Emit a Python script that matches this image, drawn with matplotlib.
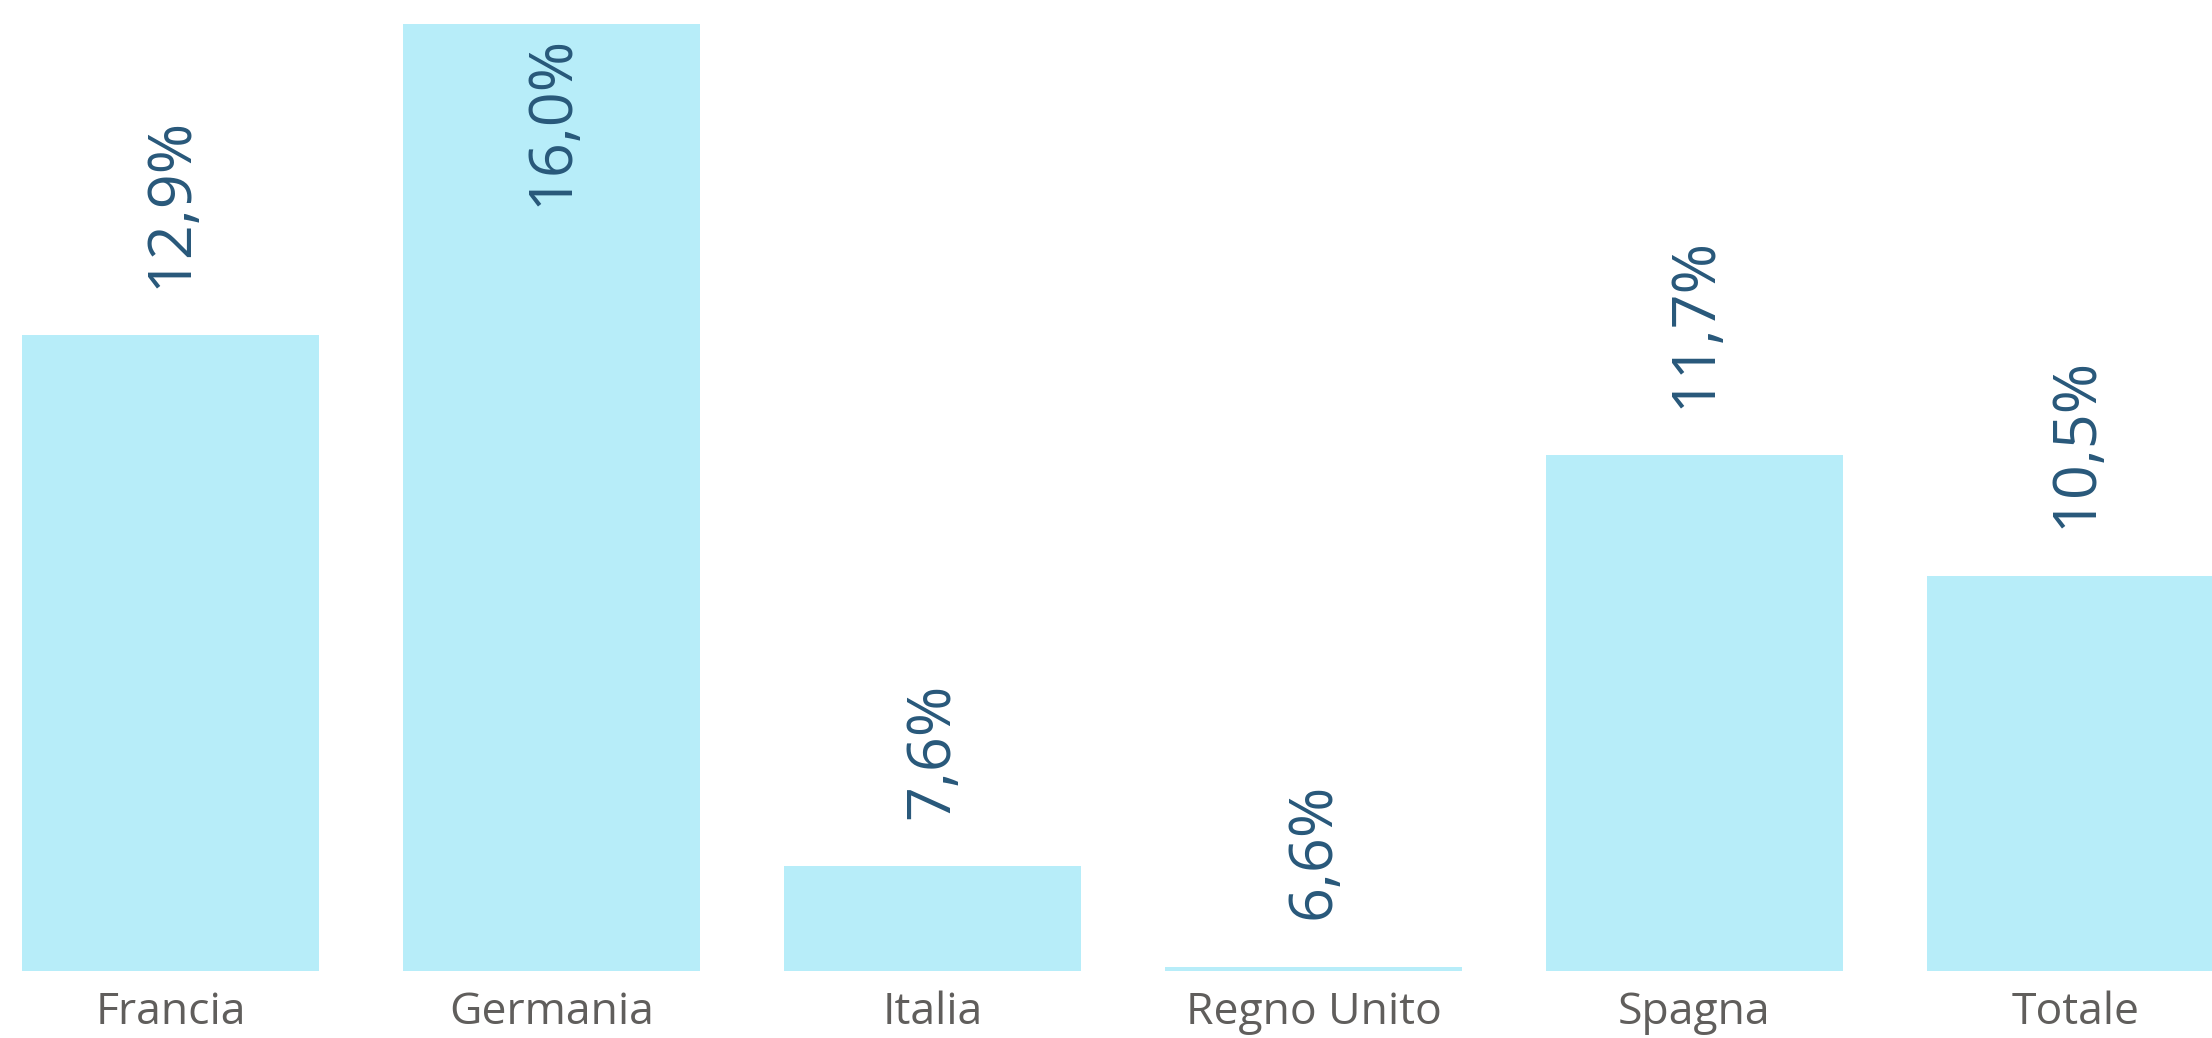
import matplotlib
matplotlib.use("Agg")
import matplotlib.pyplot as plt

# Data: share per country (%)
categories = ["Francia", "Germania", "Italia", "Regno Unito", "Spagna", "Totale"]
values = [12.9, 16.0, 7.6, 6.6, 11.7, 10.5]

BAR_COLOR = "#B7EDF9"
LABEL_COLOR = "#28587A"
TICK_COLOR = "#605E5C"
FONT = ["Open Sans", "DejaVu Sans"]

fig = plt.figure(figsize=(22.12, 10.38), dpi=100)
ax = fig.add_axes([0.0, 0.0649, 1.0, 0.9351])

x = list(range(len(categories)))
ax.bar(x, values, width=0.778, color=BAR_COLOR, bottom=0)

y_min, y_max = 6.56, 16.24
ax.set_ylim(y_min, y_max)
ax.set_xlim(-0.448, 5.359)

# Value labels: rotated, above the bar, or inside the bar when there is no room
for xi, v in zip(x, values):
    txt = f"{v:.1f}".replace(".", ",") + "%"
    if v + 2.2 > y_max:
        ax.annotate(txt, (xi, v), xytext=(0, -8), textcoords="offset points",
                    rotation=90, ha="center", va="top", fontsize=44,
                    color=LABEL_COLOR, family=FONT)
    else:
        ax.annotate(txt, (xi, v), xytext=(0, 34), textcoords="offset points",
                    rotation=90, ha="center", va="bottom", fontsize=44,
                    color=LABEL_COLOR, family=FONT)

ax.set_xticks(x)
ax.set_xticklabels(categories, fontsize=32, color=TICK_COLOR, family=FONT)
ax.tick_params(axis="x", length=0, pad=14)
ax.set_yticks([])
for s in ax.spines.values():
    s.set_visible(False)

fig.savefig("out.png", dpi=100)
